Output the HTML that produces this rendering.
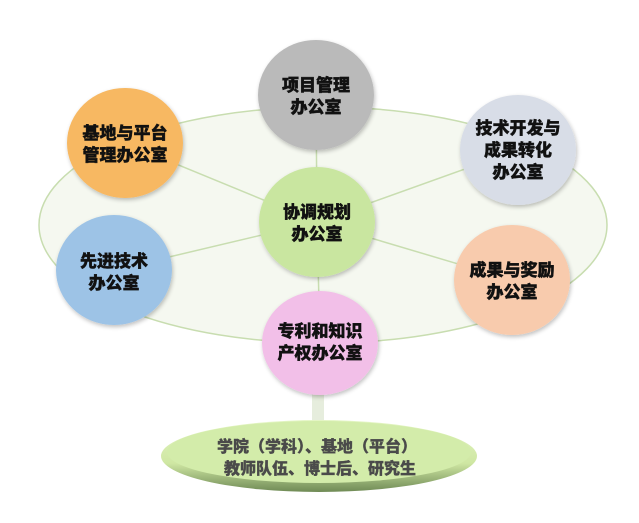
<!DOCTYPE html>
<html><head><meta charset="utf-8"><style>
body{margin:0;background:#fff;width:639px;height:518px;overflow:hidden}
svg text{font-family:"Noto Sans CJK SC","Liberation Sans",sans-serif;font-weight:900;text-anchor:middle}
</style></head><body>
<svg width="639" height="518" viewBox="0 0 639 518">
<defs>
<filter id="sh" x="-20%" y="-20%" width="140%" height="140%"><feGaussianBlur in="SourceAlpha" stdDeviation="2"/><feOffset dx="1" dy="2"/><feComponentTransfer><feFuncA type="linear" slope="0.25"/></feComponentTransfer><feMerge><feMergeNode/><feMergeNode in="SourceGraphic"/></feMerge></filter>
<linearGradient id="bg" x1="0" y1="0" x2="0" y2="1"><stop offset="0" stop-color="#e4f5c4"/><stop offset="0.6" stop-color="#cfe7a3"/><stop offset="1" stop-color="#6f8a55"/></linearGradient>
</defs>
<ellipse cx="323" cy="225" rx="284" ry="118" fill="#f5f8f0" stroke="#c8ddb0" stroke-width="1.5"/>
<g stroke="#c8ddb0" stroke-width="1.5">
<line x1="317" y1="222" x2="316" y2="95"/><line x1="317" y1="222" x2="125" y2="143"/>
<line x1="317" y1="222" x2="518" y2="150"/><line x1="317" y1="222" x2="114" y2="270"/>
<line x1="317" y1="222" x2="512" y2="280"/><line x1="317" y1="222" x2="320" y2="343"/>
</g>
<rect x="312" y="385" width="12" height="40" fill="#e6eddd"/>
<ellipse cx="319" cy="456" rx="158" ry="36" fill="url(#bg)"/>
<ellipse cx="319" cy="452" rx="152" ry="31" fill="#d3ecaa"/>
<g filter="url(#sh)">
<ellipse cx="316" cy="95" rx="58" ry="55" fill="#bababa"/>
<ellipse cx="125" cy="143" rx="58" ry="55" fill="#f7b862"/>
<ellipse cx="518" cy="150" rx="58" ry="55" fill="#d8dde7"/>
<ellipse cx="317" cy="222" rx="58" ry="55" fill="#c9e6a0"/>
<ellipse cx="114" cy="270" rx="58" ry="55" fill="#9dc3e6"/>
<ellipse cx="512" cy="280" rx="58" ry="55" fill="#f8cbad"/>
<ellipse cx="320" cy="343" rx="58" ry="52" fill="#f2bfe8"/>
</g>
<g font-size="17" fill="#111" stroke="#111" stroke-width="0.4">
<text x="316" y="91">项目管理</text><text x="316" y="113">办公室</text>
<text x="125" y="139">基地与平台</text><text x="125" y="161">管理办公室</text>
<text x="518" y="134">技术开发与</text><text x="518" y="156">成果转化</text><text x="518" y="178">办公室</text>
<text x="317" y="218">协调规划</text><text x="317" y="240">办公室</text>
<text x="114" y="267">先进技术</text><text x="114" y="289">办公室</text>
<text x="512" y="276">成果与奖励</text><text x="512" y="298">办公室</text>
<text x="320" y="337">专利和知识</text><text x="320" y="359">产权办公室</text>
</g>
<g font-size="16" fill="#4a4a4a" stroke="#4a4a4a" stroke-width="0.3">
<text x="317" y="452">学院（学科）、基地（平台）</text>
<text x="320" y="474">教师队伍、博士后、研究生</text>
</g>
</svg>
</body></html>
